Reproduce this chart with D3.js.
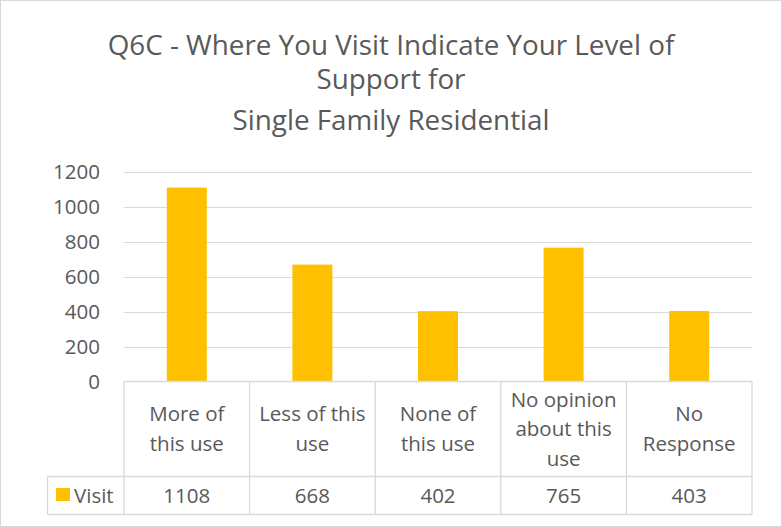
<!DOCTYPE html>
<html><head><meta charset="utf-8">
<script src="https://cdn.jsdelivr.net/npm/d3@7"></script>
<style>body{margin:0;background:#fff}svg{display:block}</style>
</head><body>
<script>
const categories = [["More of","this use"],["Less of this","use"],["None of","this use"],["No opinion","about this","use"],["No","Response"]];
const values = [1108, 668, 402, 765, 403];
const seriesName = "Visit";
const yTicks = [0, 200, 400, 600, 800, 1000, 1200];
const titleLines = ["Q6C - Where You Visit Indicate Your Level of", "Support for", "Single Family Residential"];

(function(){
const W = 782, H = 527;
const font = "'Open Sans', sans-serif";
const txt = "#595959", grid = "#d9d9d9", barColor = "#FFC000";
const fs = 20.5;
const svg = d3.select("body").append("svg").attr("width", W).attr("height", H);
svg.append("rect").attr("x",0.5).attr("y",0.5).attr("width",W-1).attr("height",H-1)
  .attr("fill","#fff").attr("stroke",grid);

const pl = 124, pr = 752, pt = 171.5, pb = 381.5;
const x = d3.scaleBand().domain(d3.range(values.length)).range([pl, pr]);
const y = d3.scaleLinear().domain([0, 1200]).range([pb, pt]);

// title
svg.append("g").selectAll("text").data(titleLines).join("text")
  .attr("x", W/2).attr("y", (d,i)=>[55, 89, 130][i])
  .attr("text-anchor","middle").attr("font-family",font).attr("font-size",27.8)
  .attr("fill",txt).text(d=>d);

// gridlines
svg.append("g").selectAll("line").data(yTicks.filter(t=>t>0)).join("line")
  .attr("x1",pl).attr("x2",pr).attr("y1",d=>Math.round(y(d))+0.5).attr("y2",d=>Math.round(y(d))+0.5)
  .attr("stroke",grid).attr("stroke-width",1.2);

// y axis labels
const ya = svg.append("g").attr("transform",`translate(${pl},0)`)
  .call(d3.axisLeft(y).tickValues(yTicks).tickFormat(d3.format("d")).tickSize(0).tickPadding(24));
ya.select(".domain").remove();
ya.selectAll("text").attr("font-family",font).attr("font-size",fs).attr("fill",txt);

// bars
const bw = 40;
svg.append("g").selectAll("rect").data(values).join("rect")
  .attr("x",(d,i)=>x(i)+x.bandwidth()/2-bw/2).attr("width",bw)
  .attr("y",d=>y(d)).attr("height",d=>y(0)-y(d)).attr("fill",barColor);

// data table
const rowTop = pb, row1 = 476.5, row2 = 514.5, legLeft = 47.5;
const tg = svg.append("g").attr("stroke",grid).attr("stroke-width",1.3).attr("fill","none");
tg.append("line").attr("x1",pl).attr("x2",pr).attr("y1",rowTop).attr("y2",rowTop);
tg.append("line").attr("x1",legLeft).attr("x2",pr).attr("y1",row1).attr("y2",row1);
tg.append("line").attr("x1",legLeft).attr("x2",pr).attr("y1",row2).attr("y2",row2);
tg.append("line").attr("x1",legLeft).attr("x2",legLeft).attr("y1",row1).attr("y2",row2);
tg.selectAll(".v").data(d3.range(values.length+1)).join("line")
  .attr("x1",i=>i<values.length?x(i):pr).attr("x2",i=>i<values.length?x(i):pr)
  .attr("y1",rowTop).attr("y2",row2);

// category labels
const lh = 29.5;
svg.append("g").selectAll("text").data(categories).join("text")
  .attr("text-anchor","middle").attr("font-family",font).attr("font-size",fs).attr("fill",txt)
  .each(function(lines,i){
    const cy = (rowTop+row1)/2;
    const y0 = cy - (lines.length-1)*lh/2;
    d3.select(this).selectAll("tspan").data(lines).join("tspan")
      .attr("x", x(i)+x.bandwidth()/2).attr("y",(d,j)=>y0+j*lh).attr("dy","0.35em").text(d=>d);
  });

// values row
svg.append("g").selectAll("text").data(values).join("text")
  .attr("x",(d,i)=>x(i)+x.bandwidth()/2).attr("y",(row1+row2)/2).attr("dy","0.35em")
  .attr("text-anchor","middle").attr("font-family",font).attr("font-size",fs).attr("fill",txt)
  .text(d=>d);

// legend key
svg.append("rect").attr("x",56).attr("y",488).attr("width",14).attr("height",13).attr("fill",barColor);
svg.append("text").attr("x",74).attr("y",(row1+row2)/2).attr("dy","0.35em")
  .attr("font-family",font).attr("font-size",fs).attr("fill",txt).text(seriesName);
})();
</script>
</body></html>
